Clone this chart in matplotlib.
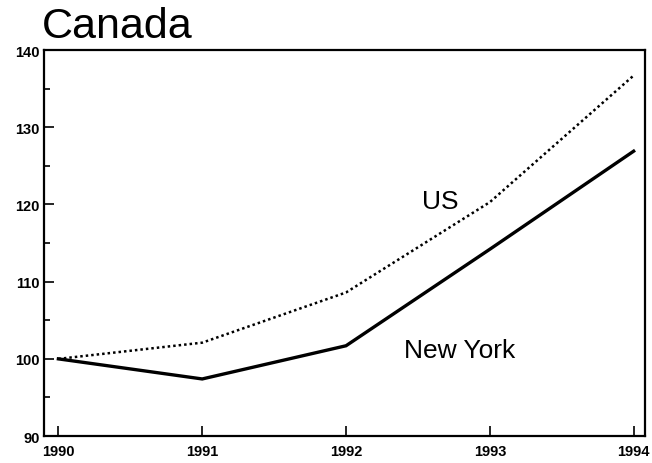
import numpy as np
import matplotlib.pyplot as plt

plt.rcParams['font.family'] = ['Liberation Sans', 'DejaVu Sans']

years = [1990, 1991, 1992, 1993, 1994]
us = [100, 102.1, 108.6, 120.3, 136.7]
new_york = [100, 97.4, 101.7, 114.2, 126.9]
y_ticks = [90, 100, 110, 120, 130, 140]

fig = plt.figure(figsize=(6.52, 4.64), dpi=100)
ax = fig.add_axes([0.0675, 0.058, 0.922, 0.832])

ax.plot(years, us, color='black', lw=1.8, linestyle=(0, (1, 1.2)))
ax.plot(years, new_york, color='black', lw=2.4, solid_joinstyle='miter')

ax.set_xlim(1989.9, 1994.08)
ax.set_ylim(90, 140)
ax.set_xticks(years)
ax.set_yticks(y_ticks)
ax.set_yticks(np.arange(95, 140, 10), minor=True)
ax.tick_params(direction='in', length=7, width=1.2, labelsize=10.5, pad=3)
ax.tick_params(axis='x', pad=6)
ax.tick_params(axis='y', which='minor', direction='in', length=4, width=1.2)
for lab in ax.get_xticklabels() + ax.get_yticklabels():
    lab.set_fontweight('bold')
for s in ax.spines.values():
    s.set_linewidth(1.6)

ax.text(1992.53, 119.6, 'US', fontsize=19, ha='left', va='baseline')
ax.text(1992.40, 100.26, 'New York', fontsize=19, ha='left', va='baseline')

fig.text(0.064, 0.918, 'Canada', fontsize=31, ha='left', va='baseline')

fig.savefig('out.png', dpi=100)
